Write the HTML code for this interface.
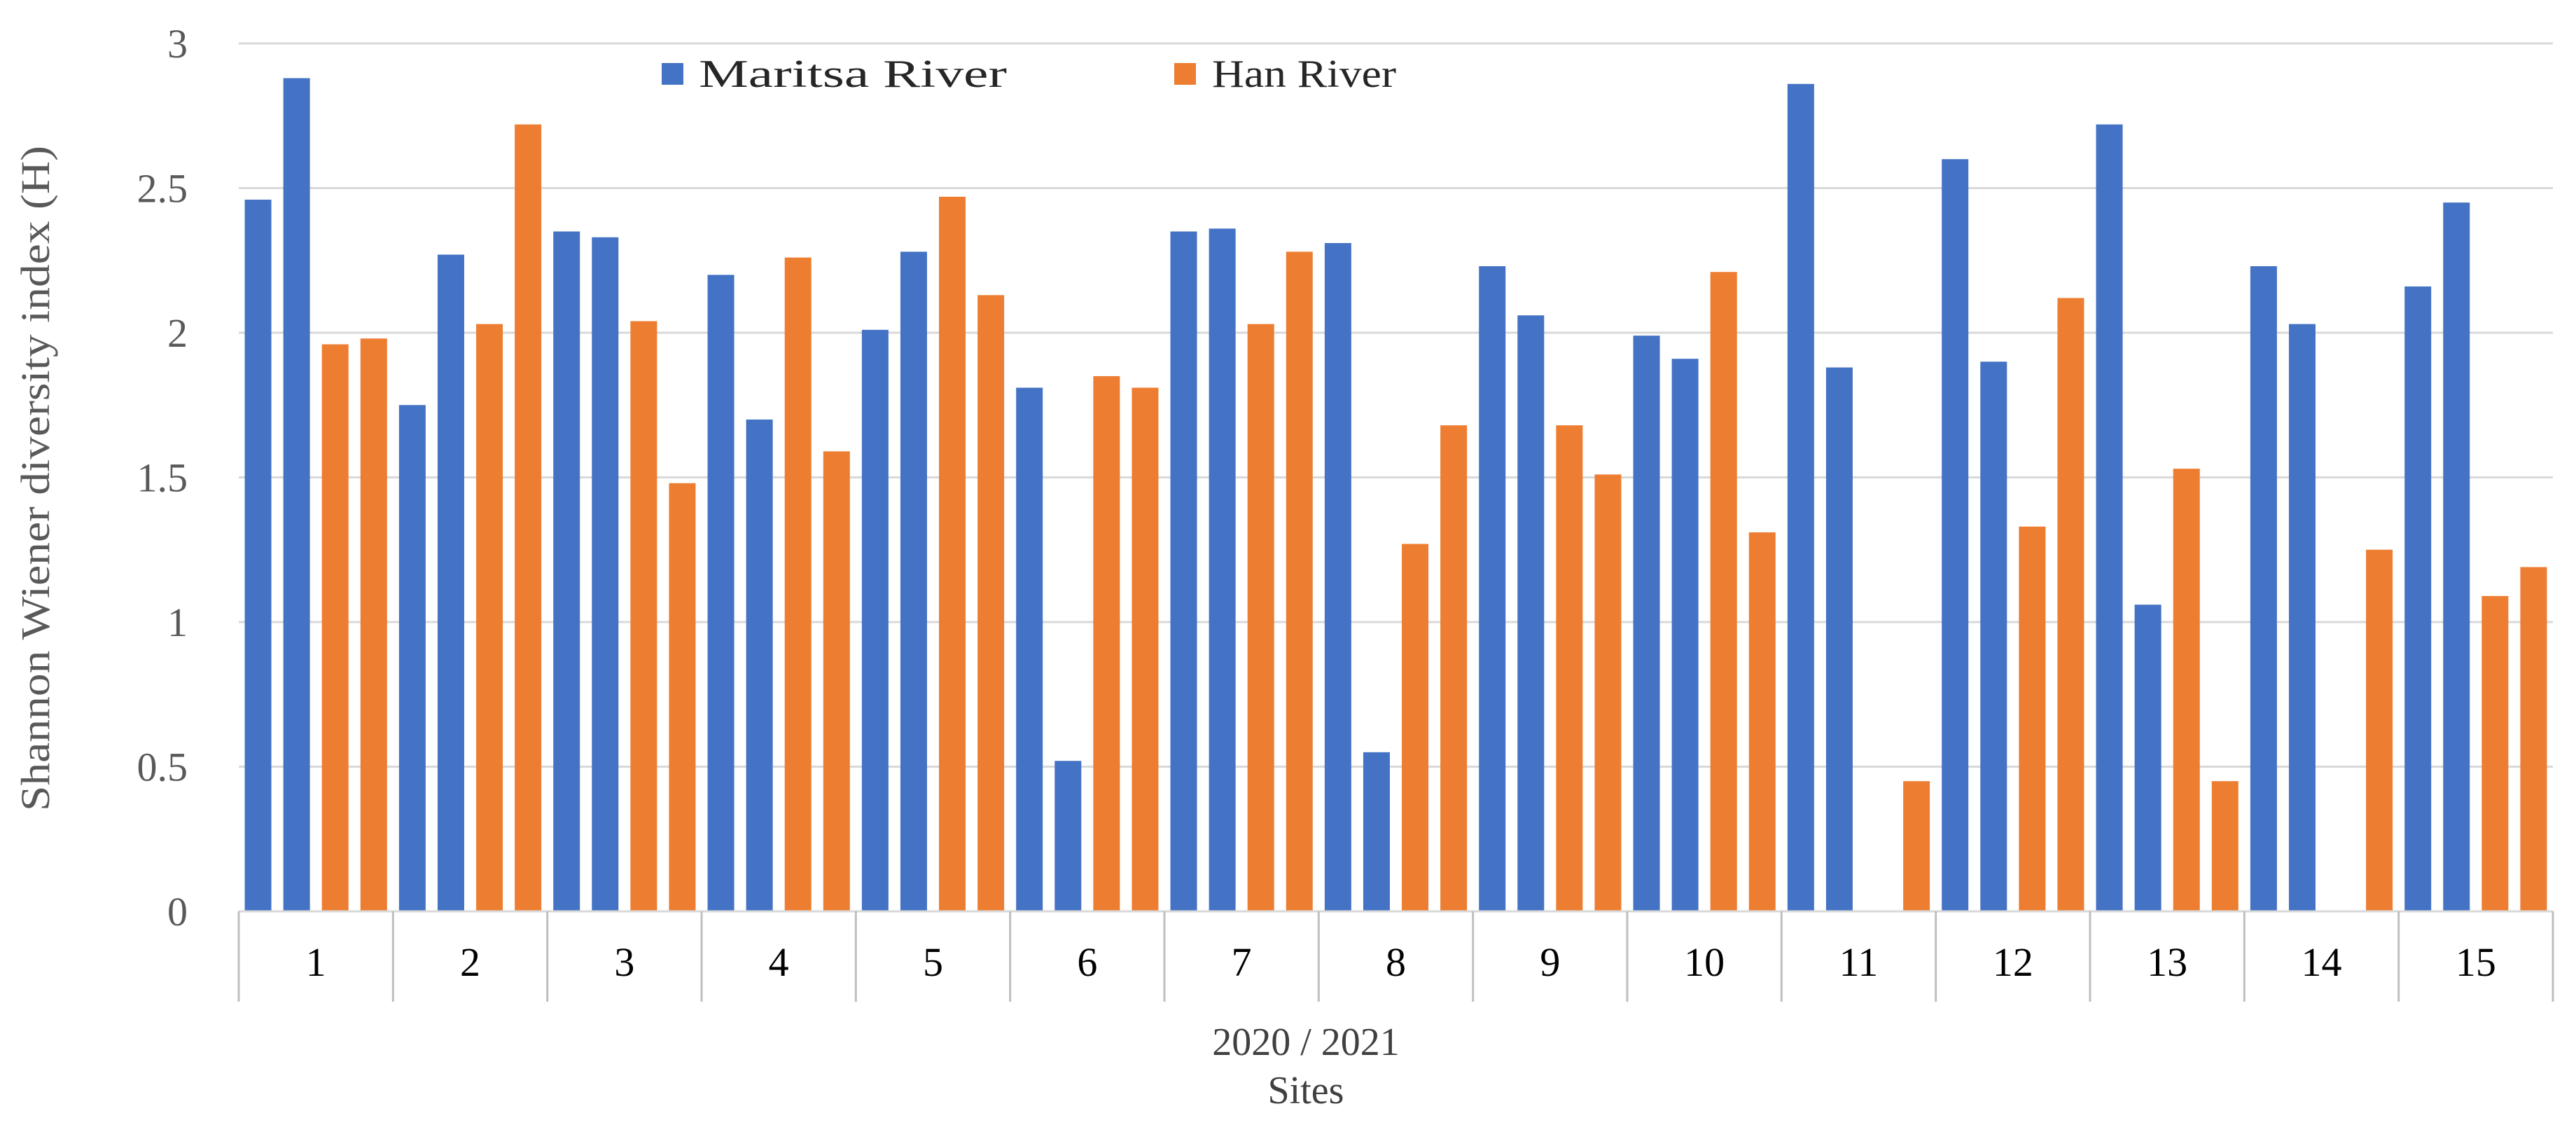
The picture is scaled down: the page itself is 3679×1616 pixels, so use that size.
<!DOCTYPE html>
<html><head><meta charset="utf-8"><style>
html,body{margin:0;padding:0;background:#fff;}
svg{display:block;}
</style></head><body>
<svg id="chart" width="3679" height="1616" viewBox="0 0 3679 1616" xmlns="http://www.w3.org/2000/svg">
<g id="grid"></g>
<g id="yticks"></g>
<g id="bars"></g>
<g id="xaxis"></g>
<text transform="translate(70,683) rotate(-90)" text-anchor="middle" font-family="'Liberation Serif', serif" font-size="58" fill="#595959" textLength="950" lengthAdjust="spacingAndGlyphs">Shannon  Wiener  diversity  index  (H)</text>
<text x="1865" y="1506" text-anchor="middle" font-family="'Liberation Serif', serif" font-size="56" fill="#404040">2020 / 2021</text>
<text x="1865" y="1575" text-anchor="middle" font-family="'Liberation Serif', serif" font-size="56" fill="#404040">Sites</text>
<g>
<rect x="945" y="90" width="31" height="31" fill="#4472C4"/>
<text x="998" y="124" font-family="'Liberation Serif', serif" font-size="56" fill="#262626" textLength="440" lengthAdjust="spacingAndGlyphs">Maritsa River</text>
<rect x="1677" y="90" width="31" height="31" fill="#ED7D31"/>
<text x="1731" y="124" font-family="'Liberation Serif', serif" font-size="56" fill="#262626" textLength="263" lengthAdjust="spacingAndGlyphs">Han River</text>
</g>
</svg>
<script>
const sites = ["1","2","3","4","5","6","7","8","9","10","11","12","13","14","15"];
const maritsa2020 = [2.46,1.75,2.35,2.20,2.01,1.81,2.35,2.31,2.23,1.99,2.86,2.60,2.72,2.23,2.16];
const maritsa2021 = [2.88,2.27,2.33,1.70,2.28,0.52,2.36,0.55,2.06,1.91,1.88,1.90,1.06,2.03,2.45];
const han2020 = [1.96,2.03,2.04,2.26,2.47,1.85,2.03,1.27,1.68,2.21,0,1.33,1.53,0,1.09];
const han2021 = [1.98,2.72,1.48,1.59,2.13,1.81,2.28,1.68,1.51,1.31,0.45,2.12,0.45,1.25,1.19];
const yTicks = [0,0.5,1,1.5,2,2.5,3];
const yTickLabels = ["0","0.5","1","1.5","2","2.5","3"];

const NS="http://www.w3.org/2000/svg";
const X0=341, X1=3646, Y0=1301, Y3=62, YMAX=3;
const band=(X1-X0)/sites.length;
const y=v=>Y0-(v/YMAX)*(Y0-Y3);
const x=i=>X0+i*band;
function mk(tag,attrs,parent){const e=document.createElementNS(NS,tag);for(const k in attrs)e.setAttribute(k,attrs[k]);parent.appendChild(e);return e;}
const grid=document.getElementById('grid'),yt=document.getElementById('yticks'),bars=document.getElementById('bars'),xa=document.getElementById('xaxis');
yTicks.forEach((t,i)=>{
  if(t>0){const l=mk('line',{x1:X0,x2:X1,y1:y(t),y2:y(t),stroke:'#d9d9d9','stroke-width':3},grid);
  
  }
  const tx=mk('text',{x:268,y:y(t)+20,'text-anchor':'end','font-family':"'Liberation Serif', serif",'font-size':58,fill:'#595959'},yt);
  tx.textContent=yTickLabels[i];
  
  
});
const series=[[maritsa2020,'#4472C4','maritsa-2020'],[maritsa2021,'#4472C4','maritsa-2021'],[han2020,'#ED7D31','han-2020'],[han2021,'#ED7D31','han-2021']];
const slot=band/4, bw=38;
sites.forEach((s,i)=>{
  series.forEach((ser,j)=>{
    const v=ser[0][i]; if(!v) return;
    const r=mk('rect',{x:x(i)+j*slot+(slot-bw)/2,y:y(v),width:bw,height:Y0-y(v),fill:ser[1]},bars);
    
    
  });
  const lb=mk('text',{x:x(i)+band/2,y:1393,'text-anchor':'middle','font-family':"'Liberation Serif', serif",'font-size':58,fill:'#000'},xa);
  lb.textContent=s;
  
  
});
const base=mk('line',{x1:X0,x2:X1,y1:Y0,y2:Y0,stroke:'#d9d9d9','stroke-width':3},xa);


for(let i=0;i<=sites.length;i++){
  const d=mk('line',{x1:x(i),x2:x(i),y1:Y0,y2:1430,stroke:'#bfbfbf','stroke-width':3},xa);
  
  
}
</script>
</body></html>
